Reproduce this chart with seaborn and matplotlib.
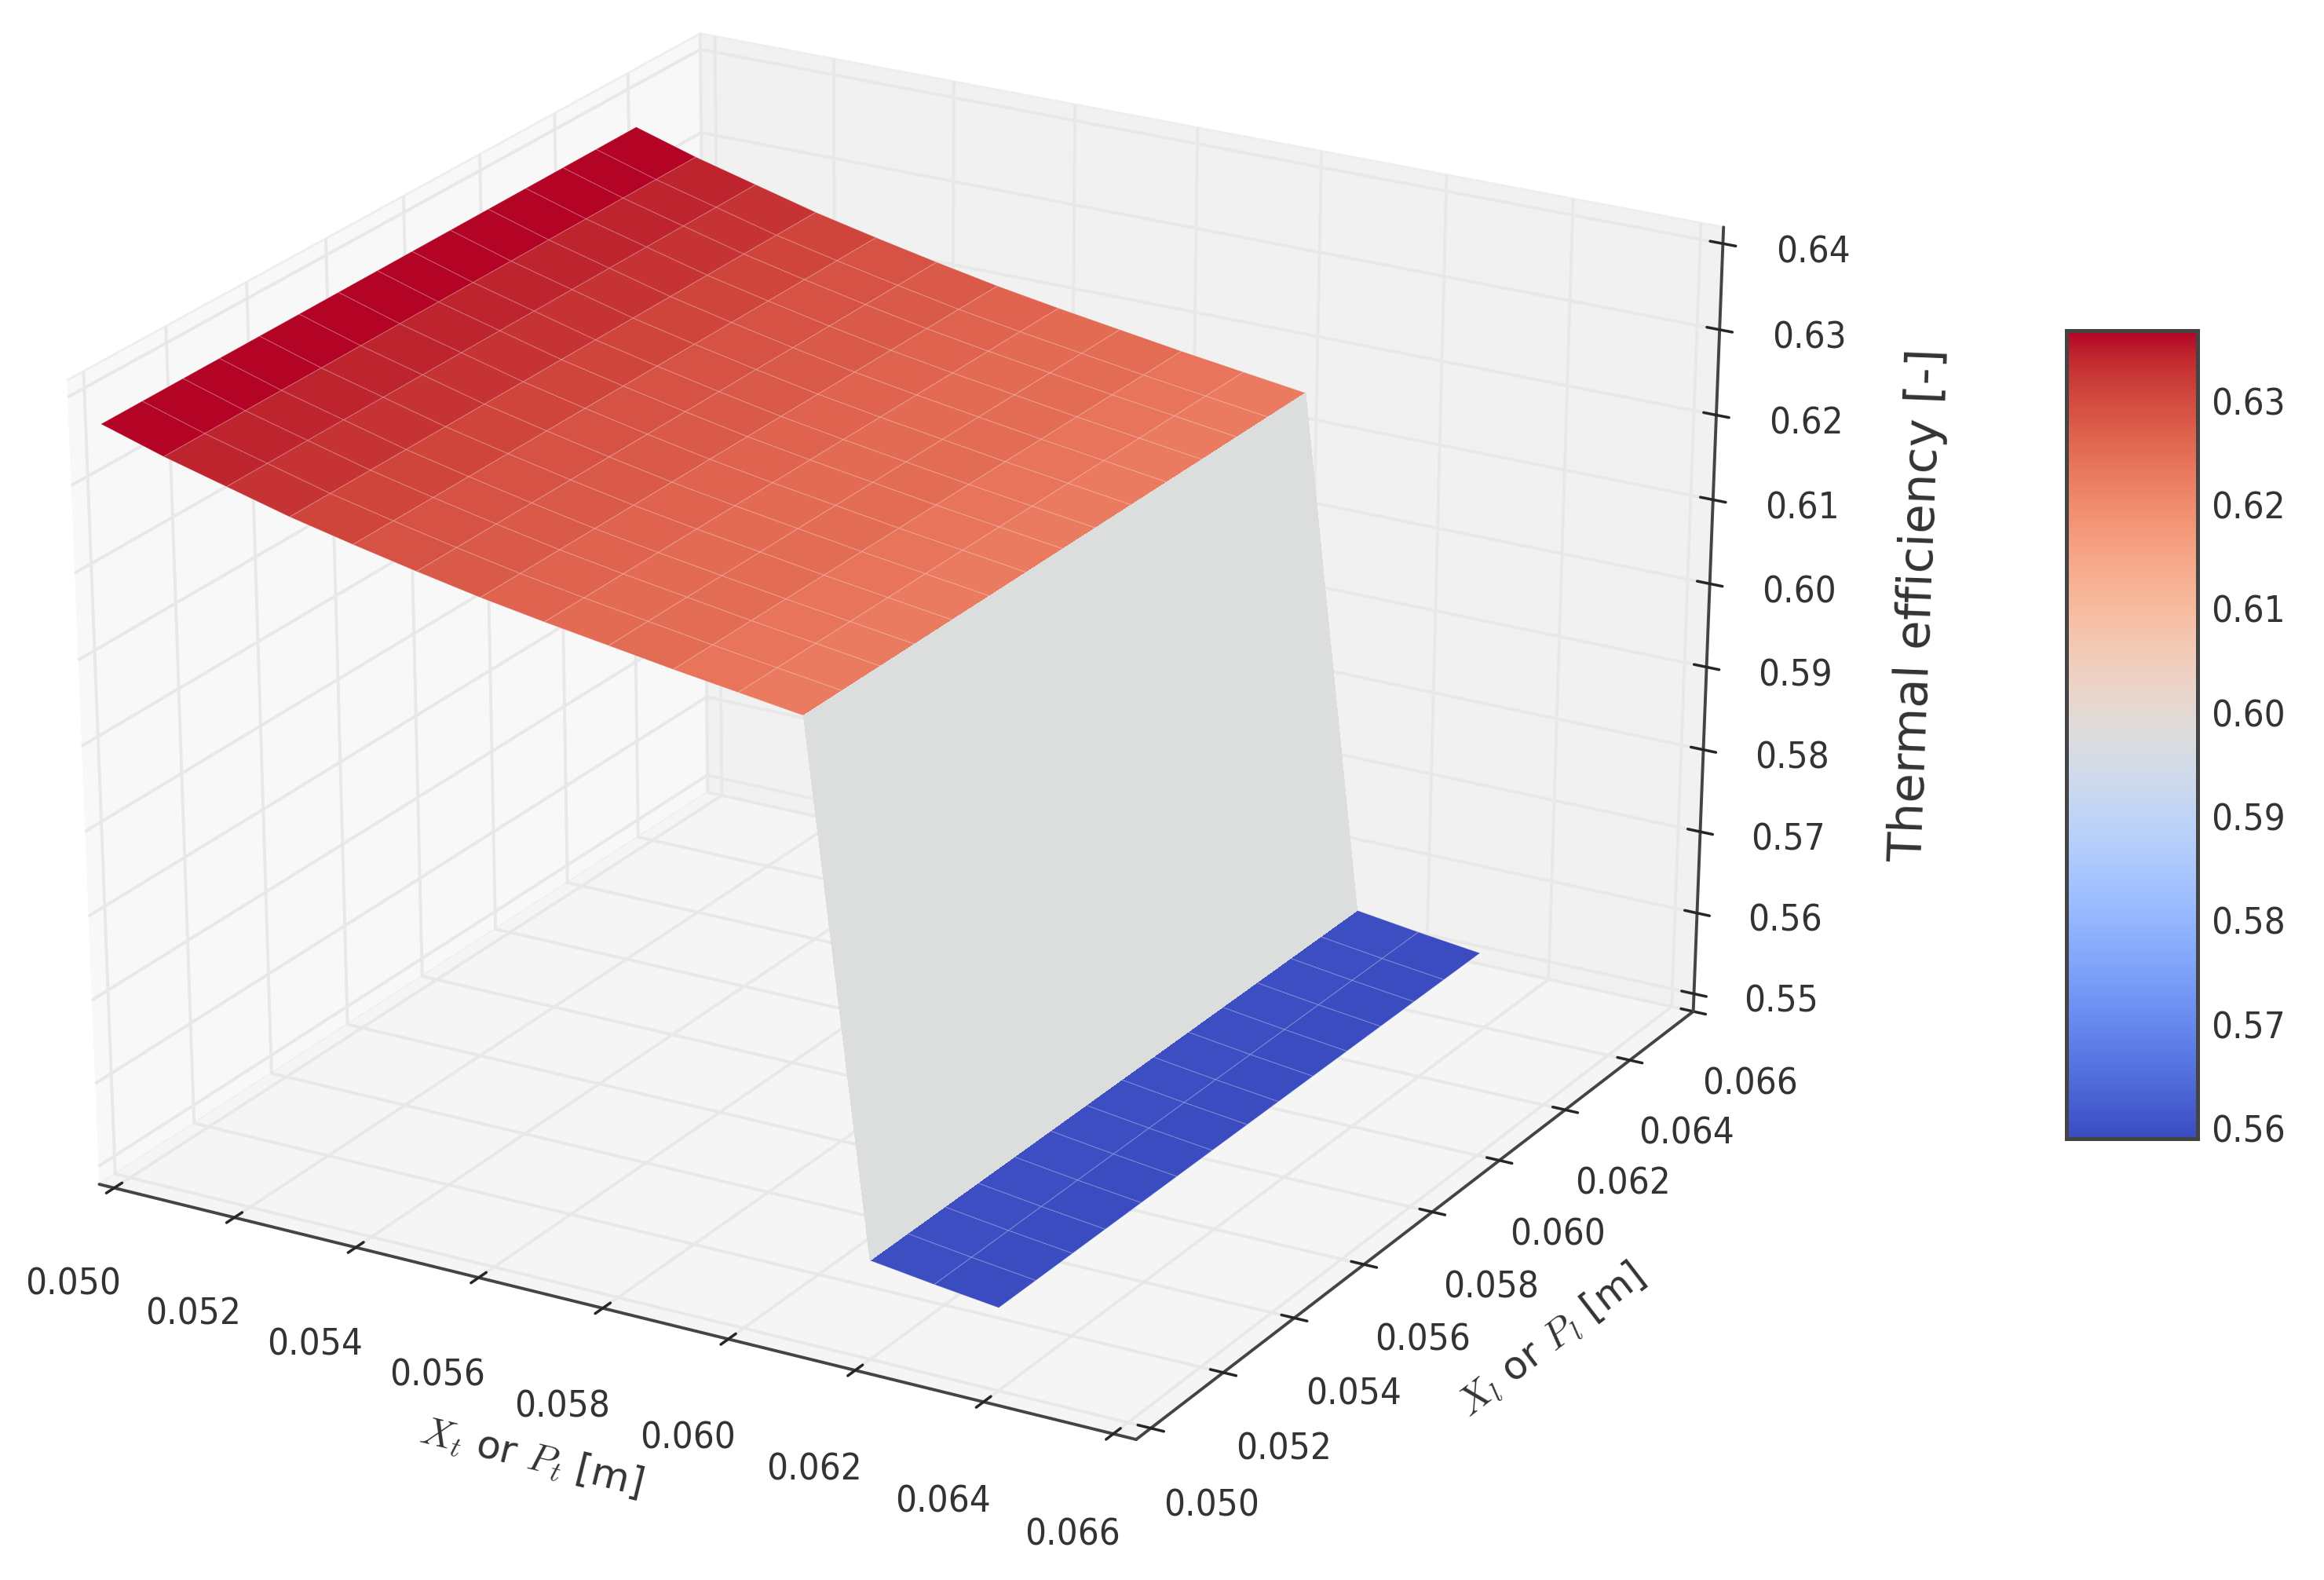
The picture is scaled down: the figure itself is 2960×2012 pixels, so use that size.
import numpy as np
import matplotlib
matplotlib.use('Agg')
import matplotlib.pyplot as plt
import seaborn as sns

# grid lines of the surface, in m
xt_lines = [0.050, 0.051, 0.052, 0.053, 0.054, 0.055, 0.056, 0.057,
            0.058, 0.059, 0.060, 0.061, 0.062, 0.063, 0.064]
xl_lines = [0.0500, 0.0510, 0.0520, 0.0529, 0.0539, 0.0549, 0.0559, 0.0569,
            0.0578, 0.0588, 0.0598, 0.0608, 0.0618, 0.0627, 0.0638]
# efficiency along Xt (does not change with Xl)
eff_lines = [0.6363, 0.6341, 0.6322, 0.6303, 0.6287, 0.6272, 0.6258, 0.6246,
             0.6235, 0.6224, 0.6214, 0.6204, 0.5595, 0.5585, 0.5576]
# colour value of each strip between two Xt lines
cell_values = [0.6368, 0.6345, 0.6329, 0.6310, 0.6290, 0.6279, 0.6267, 0.6255,
               0.6251, 0.6240, 0.6228, 0.5979, 0.5595, 0.5590]

tick_xy = [0.050, 0.052, 0.054, 0.056, 0.058, 0.060, 0.062, 0.064, 0.066]
tick_z = [0.55, 0.56, 0.57, 0.58, 0.59, 0.60, 0.61, 0.62, 0.63, 0.64]
tick_bar = [0.56, 0.57, 0.58, 0.59, 0.60, 0.61, 0.62, 0.63]
bar_min, bar_max = 0.559, 0.6368

sns.set_theme(style='white')
plt.rcParams['font.family'] = ['DejaVu Sans']
plt.rcParams['mathtext.fontset'] = 'cm'
text_col = '#333333'

X, Y = np.meshgrid(xt_lines, xl_lines)
Z = np.tile(eff_lines, (len(xl_lines), 1))

cmap = sns.color_palette('coolwarm', as_cmap=True)
norm = plt.Normalize(bar_min, bar_max)
colors = np.zeros(Z.shape + (4,))
colors[:, :-1] = cmap(norm(np.tile(cell_values, (len(xl_lines), 1))))

fig = plt.figure(figsize=(14.8, 10.06), dpi=200)
ax = fig.add_axes([-0.033, 0.022, 0.826, 1.033], projection='3d')
# let the 3d box stretch over the whole axes, like old matplotlib did
ax.apply_aspect = lambda position=None: None
ax.set_box_aspect((4, 4, 3.5))
ax.set_proj_type('persp', focal_length=1.15)

# plateau, step and low strip; the step has no visible cell seams
seam = (1, 1, 1, 0.13)
ax.plot_surface(X[:, :12], Y[:, :12], Z[:, :12], facecolors=colors[:, :12], rstride=1, cstride=1,
                linewidth=0.5, edgecolor=seam, antialiased=True, shade=False)
ax.plot_surface(X[:, 11:13], Y[:, 11:13], Z[:, 11:13], facecolors=colors[:, 11:13], rstride=1, cstride=1,
                linewidth=0, antialiased=False, shade=False)
ax.plot_surface(X[:, 12:], Y[:, 12:], Z[:, 12:], facecolors=colors[:, 12:], rstride=1, cstride=1,
                linewidth=0.5, edgecolor=seam, antialiased=True, shade=False)

ax.set_xlim(0.04975, 0.06635)
ax.set_ylim(0.0496, 0.0660)
ax.set_zlim(0.5478, 0.6419)
ax.set_xticks(tick_xy)
ax.set_yticks(tick_xy)
ax.set_zticks(tick_z)
ax.set_xticklabels([f'{v:.3f}' for v in tick_xy], fontsize=17, color=text_col, stretch='condensed')
ax.set_yticklabels([f'{v:.3f}' for v in tick_xy], fontsize=17, color=text_col, stretch='condensed')
ax.set_zticklabels([f'{v:.2f}' for v in tick_z], fontsize=17, color=text_col, stretch='condensed')
ax.set_xlabel('$X_t$ or $P_t$ [m]', fontsize=18, color=text_col, labelpad=30)
ax.set_ylabel('$X_l$ or $P_l$ [m]', fontsize=18, color=text_col, labelpad=30)
ax.set_zlabel('Thermal efficiency [-]', fontsize=22, color=text_col, labelpad=36)
ax.tick_params(axis='x', pad=20)
ax.tick_params(axis='y', pad=16)
ax.tick_params(axis='z', pad=16)

pane_cols = ['#f8f8f8', '#f1f1f1', '#f5f5f5']
for axis, pane in zip((ax.xaxis, ax.yaxis, ax.zaxis), pane_cols):
    axis.set_pane_color(pane)
    axis.pane.set_edgecolor('#eeeeee')
    axis.line.set_color('#444444')
    axis.line.set_linewidth(1.4)
    axis._axinfo['grid'].update(color='#e8e8e8', linewidth=1.4)
    axis._axinfo['tick'].update(inward_factor=0.15, outward_factor=0.15, color='#333333')

ax.view_init(elev=26.2, azim=-60)

cax = fig.add_axes([2632 / 2960, 1 - 1450 / 2012, 167 / 2960, 1029 / 2012])
sm = plt.cm.ScalarMappable(norm=norm, cmap=cmap)
cbar = fig.colorbar(sm, cax=cax, ticks=tick_bar)
cbar.ax.set_yticklabels([f'{v:.2f}' for v in tick_bar], fontsize=17, color=text_col, stretch='condensed')
cbar.ax.tick_params(direction='in', length=7, width=1, pad=6, right=True, color='#333333')
cbar.outline.set_edgecolor('#444444')
cbar.outline.set_linewidth(1.8)

fig.savefig('out.png', dpi=200)
